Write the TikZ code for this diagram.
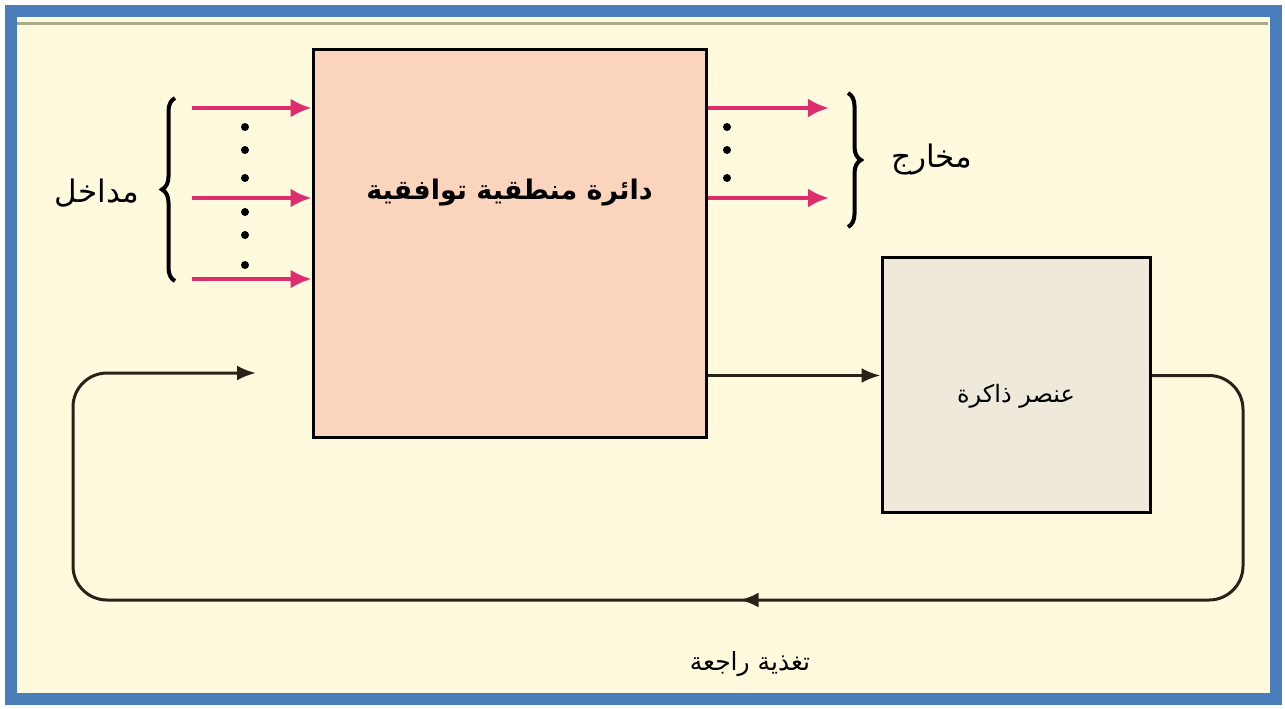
\documentclass[tikz,border=0pt]{standalone}
\usepackage{fontspec}
\usepackage{tikz}
\usetikzlibrary{arrows.meta,positioning,calc,decorations.pathreplacing,decorations.markings}
\TeXXeTstate=1
\newfontfamily\arabicfont[Script=Arabic]{DejaVu Sans}
\definecolor{framecolor}{RGB}{74,126,187}
\definecolor{papercolor}{RGB}{255,250,222}
\definecolor{peachcolor}{RGB}{251,212,190}
\definecolor{memcolor}{RGB}{239,233,220}
\definecolor{signalcolor}{RGB}{222,45,110}
\definecolor{loopcolor}{RGB}{40,35,25}
\definecolor{rulecolor}{RGB}{170,170,140}

\begin{document}
\begin{tikzpicture}[
  x=1pt,y=-1pt,
  block/.style={rectangle,draw=black,line width=3pt,inner sep=0pt},
  lbl/.style={font=\arabicfont\fontsize{31}{36}\selectfont,inner sep=0pt},
  sig/.style={-{Latex[length=21pt,width=19pt]},line width=4pt,draw=signalcolor},
  line/.style={-{Latex[length=19pt,width=15pt]},line width=3pt,draw=loopcolor},
  curly/.style={decorate,decoration={brace,amplitude=13pt},line width=4pt}
]
  \useasboundingbox (0,0) rectangle (1285,709);
  % frame and paper
  \fill[white] (0,0) rectangle (1285,709);
  \fill[papercolor] (11,11) rectangle (1276,699);
  \draw[rulecolor,line width=3pt] (17,24) -- (1268,24);
  \draw[framecolor,line width=12pt] (11,11) rectangle (1276,699);

  % blocks
  \node[block,fill=peachcolor,minimum width=393pt,minimum height=387pt] (comb) at (509.5,243.5) {};
  \node[font=\arabicfont\bfseries\fontsize{27}{32}\selectfont] (combtxt) at ([yshift=51pt]comb.center) {\beginR دائرة منطقية توافقية\endR};
  \node[block,fill=memcolor,minimum width=268pt,minimum height=255pt] (mem) at (1016,384.5) {};
  \node[font=\arabicfont\fontsize{24}{28}\selectfont] (memtxt) at ([yshift=-12pt]mem.center) {\beginR عنصر ذاكرة\endR};

  % inputs
  \coordinate (in1) at (192,108);
  \coordinate (in2) at (192,198);
  \coordinate (in3) at (192,279);
  \draw[sig] (in1) -- (in1 -| comb.west);
  \draw[sig] (in2) -- (in2 -| comb.west);
  \draw[sig] (in3) -- (in3 -| comb.west);
  \fill (245,127) circle (4) (245,150) circle (4) (245,178) circle (4);
  \fill (245,212) circle (4) (245,235) circle (4) (245,265) circle (4);
  \draw[curly] (175,281) -- (175,98);
  \node[lbl] (inlbl) at (97,193) {\beginR مداخل\endR};

  % outputs
  \coordinate (out1) at (829,108);
  \coordinate (out2) at (829,198);
  \draw[sig] (comb.east |- out1) -- (out1);
  \draw[sig] (comb.east |- out2) -- (out2);
  \fill (727,127) circle (4) (727,150) circle (4) (727,178) circle (4);
  \draw[curly] (848,93) -- (848,227);
  \node[lbl] (outlbl) at (932,160) {\beginR مخارج\endR};

  % memory link and feedback
  \coordinate (link) at ([yshift=9pt]mem.west);
  \draw[line] (comb.east |- link) -- (link);
  \coordinate (fbR) at (1243,600);
  \coordinate (fbL) at (73,600);
  \coordinate (fbin) at (256,373);
  \draw[line,rounded corners=34pt,
        postaction={decorate,decoration={markings,mark=at position 0.43 with {\arrow{Latex[length=19pt,width=15pt]}}}}]
    ([yshift=9pt]mem.east) -| (fbR) -- (fbL) |- (fbin);
  \node[font=\arabicfont\fontsize{25}{30}\selectfont] (fblbl) at (750,664) {\beginR تغذية راجعة\endR};
\end{tikzpicture}
\end{document}
